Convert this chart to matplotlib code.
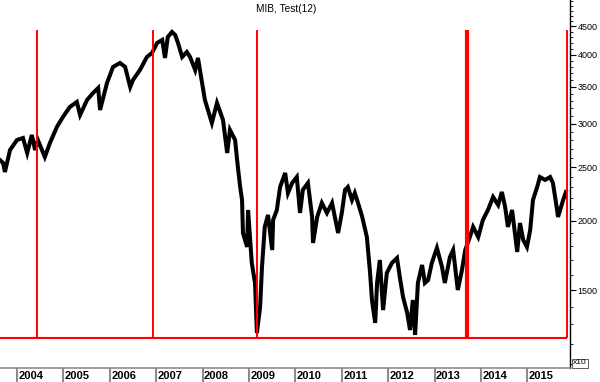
import matplotlib
matplotlib.use("Agg")
import matplotlib.pyplot as plt
from matplotlib.ticker import FixedLocator, NullFormatter

# ---- data (decimal year, index level x10) ----
dates = [2003.63, 2003.70, 2003.74, 2003.85, 2004.00, 2004.13, 2004.22, 2004.32, 2004.39, 2004.45,
         2004.60, 2004.71, 2004.86, 2004.99, 2005.14, 2005.29, 2005.36, 2005.51, 2005.64, 2005.75,
         2005.79, 2005.94, 2006.07, 2006.22, 2006.33, 2006.44, 2006.50, 2006.65, 2006.80, 2006.91,
         2007.02, 2007.13, 2007.19, 2007.25, 2007.34, 2007.41, 2007.47, 2007.56, 2007.66, 2007.73,
         2007.84, 2007.90, 2008.05, 2008.20, 2008.31, 2008.44, 2008.53, 2008.59, 2008.70, 2008.76,
         2008.81, 2008.85, 2008.87, 2008.96, 2008.98, 2009.06, 2009.13, 2009.17, 2009.24, 2009.28,
         2009.34, 2009.41, 2009.50, 2009.52, 2009.60, 2009.67, 2009.78, 2009.84, 2009.93, 2010.03,
         2010.10, 2010.16, 2010.27, 2010.36, 2010.38, 2010.47, 2010.57, 2010.68, 2010.79, 2010.85,
         2010.92, 2011.00, 2011.07, 2011.13, 2011.22, 2011.28, 2011.35, 2011.44, 2011.54, 2011.61,
         2011.65, 2011.72, 2011.76, 2011.82, 2011.89, 2011.97, 2012.08, 2012.19, 2012.25, 2012.32,
         2012.41, 2012.47, 2012.53, 2012.58, 2012.64, 2012.73, 2012.79, 2012.86, 2012.94, 2013.05,
         2013.16, 2013.22, 2013.33, 2013.40, 2013.50, 2013.59, 2013.66, 2013.76, 2013.83, 2013.94,
         2014.04, 2014.15, 2014.26, 2014.37, 2014.45, 2014.52, 2014.58, 2014.67, 2014.73, 2014.78,
         2014.84, 2014.91, 2014.99, 2015.06, 2015.12, 2015.21, 2015.27, 2015.38, 2015.49, 2015.55,
         2015.64, 2015.66, 2015.75, 2015.77, 2015.83]
mib = [2579, 2547, 2453, 2688, 2803, 2826, 2655, 2862, 2688, 2803,
       2611, 2768, 2959, 3085, 3216, 3284, 3111, 3311, 3409, 3481,
       3176, 3554, 3800, 3863, 3800, 3495, 3599, 3752, 3961, 4028,
       4199, 4252, 3945, 4305, 4396, 4341, 4199, 3961, 4044, 3961,
       3752, 3945, 3311, 3009, 3270, 3046, 2655, 2922, 2803, 2505,
       2304, 2183, 1902, 1795, 2094, 1679, 1545, 1254, 1398, 1651,
       1951, 2051, 1772, 2008, 2094, 2304, 2443, 2247, 2343, 2402,
       2068, 2276, 2343, 2034, 1825, 2034, 2156, 2068, 2156, 2034,
       1902, 2068, 2276, 2304, 2183, 2247, 2156, 2034, 1871, 1610,
       1439, 1308, 1545, 1700, 1380, 1610, 1679, 1714, 1584, 1457,
       1363, 1270, 1439, 1244, 1545, 1665, 1545, 1564, 1679, 1787,
       1651, 1545, 1721, 1772, 1500, 1631, 1772, 1871, 1951, 1871,
       2008, 2094, 2210, 2138, 2257, 2120, 1951, 2094, 1902, 1758,
       1983, 1848, 1795, 1926, 2183, 2304, 2402, 2373, 2402, 2343,
       2094, 2034, 2156, 2183, 2257]

signal_dates = [2004.43, 2006.93, 2009.17, 2015.85]
thick_signal_date = 2013.70
signal_top = 4432
signal_base = 1228

year_labels = [2004, 2005, 2006, 2007, 2008, 2009, 2010, 2011, 2012, 2013, 2014, 2015]
ytick_values = [1500, 2000, 2500, 3000, 3500, 4000, 4500]

FONT = ["Liberation Sans", "DejaVu Sans"]
plt.rcParams["font.family"] = FONT

fig = plt.figure(figsize=(6.0, 3.82), dpi=100)
W, H = 600.0, 382.0
ax = fig.add_axes([0, 14 / H, 570 / W, 1 - 14 / H])

xmin, xmax = 2003.634, 2015.918
ax.set_xlim(xmin, xmax)
ax.set_yscale("log")
ax.set_ylim(1084, 5022)

ax.plot(dates, mib, color="black", lw=2.9, zorder=2, solid_joinstyle="miter")

ax.hlines(signal_base, dates[0], signal_dates[-1], color="#ff0000", lw=1.5, zorder=3)
ax.vlines(signal_dates, signal_base, signal_top, color="#ff0000", lw=1.4, zorder=3)
ax.vlines([thick_signal_date], signal_base, signal_top, color="#ff0000", lw=3.0, zorder=3)

for s in ["left", "top", "bottom"]:
    ax.spines[s].set_visible(False)
ax.spines["right"].set_color("black")
ax.spines["right"].set_linewidth(1.0)
ax.set_xticks([])
ax.yaxis.tick_right()
ax.yaxis.set_major_locator(FixedLocator(ytick_values))
ax.yaxis.set_major_formatter(plt.FixedFormatter([str(v) for v in ytick_values]))
minor = [v for v in range(1100, 5100, 100) if v not in ytick_values]
ax.yaxis.set_minor_locator(FixedLocator(minor))
ax.yaxis.set_minor_formatter(NullFormatter())
ax.tick_params(axis="y", which="major", length=4, width=0.8, labelsize=6.5, pad=1.5,
               colors="black")
ax.tick_params(axis="y", which="minor", length=2, width=0.6)

fig.text(286 / W, 1 - 8.5 / H, "MIB, Test(12)", ha="center", va="center", fontsize=7.3)

# date band
ax2 = fig.add_axes([0, 0, 570 / W, 14 / H])
ax2.set_xlim(xmin, xmax)
ax2.set_ylim(0, 1)
ax2.set_xticks([])
ax2.set_yticks([])
for s in ["left", "right", "bottom"]:
    ax2.spines[s].set_visible(False)
ax2.spines["top"].set_color("#8c8c8c")
ax2.spines["top"].set_linewidth(1.2)
for yr in year_labels:
    ax2.axvline(yr, color="#8c8c8c", lw=1.5)
    ax2.text(yr + 0.03, 0.42, str(yr), ha="left", va="center", fontsize=8,
             fontweight="bold", color="black")

fig.text(573 / W, 1 - 363 / H, "x10", ha="left", va="center", fontsize=6,
         bbox=dict(boxstyle="square,pad=0.12", fc="white", ec="#444444", lw=0.6))

fig.savefig("out.png", dpi=100)
